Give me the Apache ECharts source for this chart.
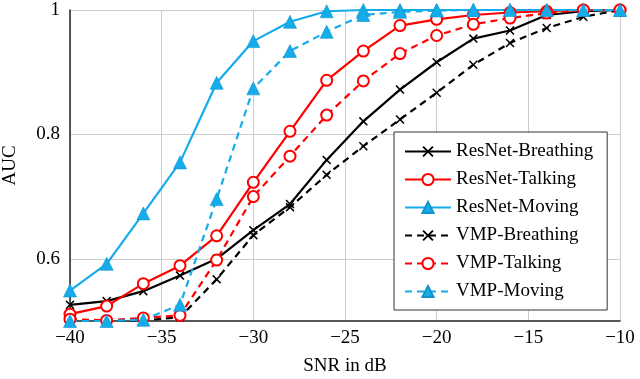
<!DOCTYPE html>
<html>
<head>
<meta charset="utf-8">
<script src="https://cdn.jsdelivr.net/npm/echarts@6/dist/echarts.min.js"></script>
<style>
  html, body { margin: 0; padding: 0; background: #fff; }
  #chart { width: 640px; height: 379px; }
</style>
</head>
<body>
<div id="chart"></div>
<script>
// SNR (dB) 取点
const snr = [-40, -38, -36, -34, -32, -30, -28, -26, -24, -22, -20, -18, -16, -14, -12, -10];

// AUC values
const resnetBreathing = [0.526, 0.532, 0.548, 0.573, 0.600, 0.646, 0.688, 0.759, 0.821, 0.872, 0.916, 0.954, 0.967, 0.992, 0.998, 1.000];
const resnetTalking   = [0.511, 0.524, 0.560, 0.589, 0.637, 0.723, 0.805, 0.887, 0.934, 0.975, 0.985, 0.992, 0.996, 0.998, 1.000, 1.000];
const resnetMoving    = [0.549, 0.592, 0.673, 0.755, 0.883, 0.950, 0.981, 0.998, 1.000, 1.000, 1.000, 1.000, 1.000, 1.000, 1.000, 1.000];
const vmpBreathing    = [0.500, 0.500, 0.501, 0.506, 0.567, 0.638, 0.683, 0.735, 0.781, 0.824, 0.867, 0.912, 0.947, 0.971, 0.989, 1.000];
const vmpTalking      = [0.503, 0.501, 0.505, 0.509, 0.598, 0.700, 0.765, 0.831, 0.886, 0.930, 0.959, 0.977, 0.987, 0.995, 1.000, 1.000];
const vmpMoving       = [0.500, 0.500, 0.502, 0.526, 0.696, 0.874, 0.934, 0.965, 0.992, 0.997, 0.999, 1.000, 1.000, 1.000, 1.000, 1.000];

const yTickLabels = ['0.6', '0.8', '1'];

const FONT = '"Liberation Serif", "DejaVu Serif", serif';
const BLUE = '#14acea';
const RED = '#ff0000';
const BLACK = '#000000';
const CROSS = 'path://M0,1.2 L1.2,0 L5,3.8 L8.8,0 L10,1.2 L6.2,5 L10,8.8 L8.8,10 L5,6.2 L1.2,10 L0,8.8 L3.8,5 Z';

function pairs(ys) {
  return snr.map((x, i) => [x, ys[i]]);
}

function makeSeries(name, ys, color, dashed, kind) {
  let s = {
    name: name,
    type: 'line',
    data: pairs(ys),
    clip: false,
    showAllSymbol: true,
    lineStyle: { color: color, width: 2.2, type: dashed ? [7, 5] : 'solid' },
  };
  if (kind === 'cross') {
    s.symbol = CROSS;
    s.symbolSize = 9;
    s.itemStyle = { color: color };
  } else if (kind === 'circle') {
    // emptyCircle: 白色填充 + 系列颜色描边
    s.symbol = 'emptyCircle';
    s.symbolSize = 11;
    s.itemStyle = { color: color, borderColor: color, borderWidth: 2.2 };
  } else {
    s.symbol = 'triangle';
    s.symbolSize = 13;
    s.itemStyle = { color: color, borderColor: '#0f95cc', borderWidth: 0.6 };
  }
  return s;
}

let myChart = echarts.init(document.getElementById('chart'));

let option = {
  animation: false,
  backgroundColor: '#fff',
  grid: { left: 70, right: 20, top: 10, bottom: 58, outerBoundsMode: 'none' },
  legend: {
    orient: 'vertical',
    left: 394,
    top: 132,
    itemWidth: 46,
    itemHeight: 14,
    itemGap: 9,
    padding: [10, 14, 9, 10],
    backgroundColor: '#fff',
    borderColor: '#333',
    borderWidth: 1,
    borderRadius: 0,
    textStyle: { fontFamily: FONT, fontSize: 19, color: '#000' },
    data: ['ResNet-Breathing', 'ResNet-Talking', 'ResNet-Moving', 'VMP-Breathing', 'VMP-Talking', 'VMP-Moving']
  },
  xAxis: {
    type: 'value',
    min: -40,
    max: -10,
    interval: 5,
    name: 'SNR in dB',
    nameLocation: 'middle',
    nameGap: 36,
    nameTextStyle: { fontFamily: FONT, fontSize: 19, color: '#000' },
    axisLine: { show: true, lineStyle: { color: '#222', width: 1.5 } },
    axisTick: { show: false },
    axisLabel: {
      margin: 8,
      fontFamily: FONT, fontSize: 19, color: '#000',
      formatter: (v) => v < 0 ? '\u2212' + (-v) : String(v)
    },
    splitLine: { show: true, lineStyle: { color: '#cccccc', width: 1 } }
  },
  yAxis: {
    type: 'value',
    min: 0.5,
    max: 1,
    interval: 0.1,
    name: 'AUC',
    nameLocation: 'middle',
    nameGap: 50,
    nameRotate: 90,
    nameTextStyle: { fontFamily: FONT, fontSize: 19, color: '#000' },
    axisLine: { show: true, lineStyle: { color: '#222', width: 1.5 } },
    axisTick: { show: false },
    axisLabel: {
      margin: 10,
      fontFamily: FONT, fontSize: 19, color: '#000',
      formatter: (v) => {
        const t = Math.round(v * 10);
        if (t === 6) return yTickLabels[0];
        if (t === 8) return yTickLabels[1];
        if (t === 10) return yTickLabels[2];
        return '';
      }
    },
    // 只在 0.6 / 0.8 / 1 画网格线
    splitLine: { show: true, lineStyle: { color: ['rgba(0,0,0,0)', '#cccccc'], width: 1 } }
  },
  series: [
    makeSeries('ResNet-Breathing', resnetBreathing, BLACK, false, 'cross'),
    makeSeries('ResNet-Talking', resnetTalking, RED, false, 'circle'),
    makeSeries('ResNet-Moving', resnetMoving, BLUE, false, 'triangle'),
    makeSeries('VMP-Breathing', vmpBreathing, BLACK, true, 'cross'),
    makeSeries('VMP-Talking', vmpTalking, RED, true, 'circle'),
    makeSeries('VMP-Moving', vmpMoving, BLUE, true, 'triangle')
  ]
};

myChart.setOption(option, true);
</script>
</body>
</html>
